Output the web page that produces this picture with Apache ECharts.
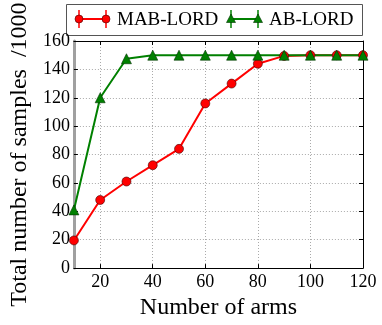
<!DOCTYPE html>
<html>
<head>
<meta charset="utf-8">
<script src="https://cdn.jsdelivr.net/npm/echarts@6/dist/echarts.min.js"></script>
<style>
  html, body { margin: 0; padding: 0; background: #fff; }
  #chart { width: 382px; height: 325px; }
</style>
</head>
<body>
<div id="chart"></div>
<script>
// data
var arms = [10, 20, 30, 40, 50, 60, 70, 80, 90, 100, 110, 120];
var mabLord = [19.5, 48, 61, 72.5, 84, 116, 130, 144, 149.5, 150, 150, 150];
var abLord = [41, 120, 147.5, 150, 150, 150, 150, 150, 150, 150, 150, 150];
var xTicks = [20, 40, 60, 80, 100, 120];

var FONT = '"Liberation Serif", "DejaVu Serif", serif';

function pairs(xs, ys) {
  return xs.map(function (x, i) { return [x, ys[i]]; });
}

var chart = echarts.init(document.getElementById('chart'));

// legend drawn by hand so it looks like the matplotlib one (markers at both ends + error caps)
function legendItem(x0, color, symbol, label) {
  var items = [];
  var y = 19;
  items.push({ type: 'line', shape: { x1: x0, y1: y, x2: x0 + 27, y2: y }, style: { stroke: color, lineWidth: 2 } });
  [x0, x0 + 27].forEach(function (x) {
    items.push({ type: 'line', shape: { x1: x, y1: y - 9, x2: x, y2: y + 9 }, style: { stroke: color, lineWidth: 1.5 } });
    if (symbol === 'circle') {
      items.push({ type: 'circle', shape: { cx: x, cy: y, r: 4 }, style: { fill: color, stroke: '#400', lineWidth: 0.6 } });
    } else {
      items.push({ type: 'polygon', shape: { points: [[x, y - 5], [x - 4.5, y + 3.5], [x + 4.5, y + 3.5]] }, style: { fill: color, stroke: '#030', lineWidth: 0.6 } });
    }
  });
  items.push({ type: 'text', style: { x: x0 + 38, y: y + 1, text: label, font: '19px ' + FONT, fill: '#000', verticalAlign: 'middle' } });
  return items;
}

var legendGraphics = [{ type: 'rect', shape: { x: 66.5, y: 4.5, width: 296, height: 31 }, style: { fill: '#fff', stroke: '#555', lineWidth: 1 } }]
  .concat(legendItem(79, '#ff0000', 'circle', 'MAB-LORD'))
  .concat(legendItem(231, '#008000', 'triangle', 'AB-LORD'));

var tickCommon = { show: true, inside: true, length: 4, lineStyle: { color: '#000', width: 1 } };

chart.setOption({
  animation: false,
  grid: { left: 66, right: 19, top: 41, bottom: 53 },
  graphic: legendGraphics,
  xAxis: [{
    type: 'value',
    min: 10,
    max: 120,
    name: 'Number of arms',
    nameLocation: 'middle',
    nameGap: 24,
    nameTextStyle: { fontFamily: FONT, fontSize: 24, color: '#000', verticalAlign: 'top' },
    axisLine: { show: true, onZero: false, lineStyle: { color: '#000', width: 1 } },
    axisTick: Object.assign({ customValues: xTicks }, tickCommon),
    axisLabel: { customValues: xTicks, fontFamily: FONT, fontSize: 18, color: '#000', margin: 5 },
    splitLine: { show: true, lineStyle: { color: '#aaa', type: [1, 2], width: 1 } }
  }, {
    type: 'value',
    position: 'top',
    min: 10,
    max: 120,
    axisLine: { show: true, onZero: false, lineStyle: { color: '#000', width: 1 } },
    axisTick: Object.assign({ customValues: xTicks }, tickCommon),
    axisLabel: { show: false },
    splitLine: { show: false }
  }],
  yAxis: [{
    type: 'value',
    min: 0,
    max: 160,
    interval: 20,
    name: 'Total number of samples  /1000',
    nameLocation: 'middle',
    nameGap: 38,
    nameTextStyle: { fontFamily: FONT, fontSize: 24, color: '#000' },
    axisLine: { show: true, onZero: false, lineStyle: { color: '#a0a0a0', width: 3 } },
    axisTick: tickCommon,
    axisLabel: { fontFamily: FONT, fontSize: 18, color: '#000', margin: 4 },
    splitLine: { show: true, lineStyle: { color: '#aaa', type: [1, 2], width: 1 } }
  }, {
    type: 'value',
    position: 'right',
    min: 0,
    max: 160,
    interval: 20,
    axisLine: { show: true, onZero: false, lineStyle: { color: '#000', width: 1 } },
    axisTick: tickCommon,
    axisLabel: { show: false },
    splitLine: { show: false }
  }],
  series: [{
    name: 'MAB-LORD',
    type: 'line',
    data: pairs(arms, mabLord),
    symbol: 'circle',
    symbolSize: 9,
    clip: true,
    lineStyle: { color: '#ff0000', width: 2 },
    itemStyle: { color: '#ff0000', borderColor: '#400', borderWidth: 0.6 }
  }, {
    name: 'AB-LORD',
    type: 'line',
    data: pairs(arms, abLord),
    symbol: 'triangle',
    symbolSize: 10,
    clip: true,
    lineStyle: { color: '#008000', width: 2 },
    itemStyle: { color: '#008000', borderColor: '#030', borderWidth: 0.6 }
  }]
});
</script>
</body>
</html>
